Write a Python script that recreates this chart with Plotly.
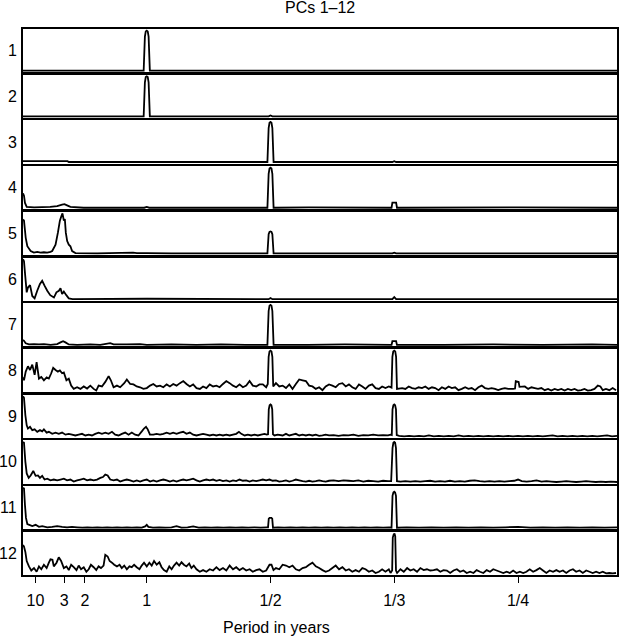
import plotly.graph_objects as go
from plotly.subplots import make_subplots

# ---------------- data (frequency in cycles/year, normalised spectral power) ----------------
PANEL_LABELS = ["1", "2", "3", "4", "5", "6", "7", "8", "9", "10", "11", "12"]
TICK_FREQS = [0.1, 1 / 3, 0.5, 1, 2, 3, 4]
TICK_LABELS = ["10", "3", "2", "1", "1/2", "1/3", "1/4"]
FREQ_MAX = 4.8
TITLE = "PCs 1\u201312"
XLABEL = "Period in years"

pc1 = [(0.0, 0.0), (0.975, 0.0), (0.985, 0.85), (0.992, 0.98), (1.0, 1.0), (1.008, 0.98),
       (1.015, 0.85), (1.025, 0.0), (4.8, 0.0)]

pc2 = [(0.0, 0.0), (0.975, 0.0), (0.985, 0.85), (0.992, 0.98), (1.0, 1.0), (1.008, 0.98),
       (1.015, 0.85), (1.025, 0.0), (1.985, 0.0), (2.0, 0.02), (2.015, 0.0), (4.8, 0.0)]

pc3 = [(0.0, 0.02), (0.36, 0.02), (0.37, 0.0), (1.975, 0.0), (1.985, 0.85), (1.992, 0.98),
       (2.0, 1.0), (2.008, 0.98), (2.015, 0.85), (2.025, 0.0), (2.985, 0.0), (3.0, 0.02),
       (3.015, 0.0), (4.8, 0.0)]

pc4 = [(0.0, 0.36), (0.008, 0.3), (0.016, 0.12), (0.03, 0.02), (0.09, 0.01), (0.22, 0.02),
       (0.276, 0.04), (0.316, 0.08), (0.335, 0.09), (0.356, 0.06), (0.383, 0.02), (0.49, 0.0),
       (0.98, 0.0), (1.0, 0.02), (1.02, 0.0), (1.975, 0.0), (1.985, 0.85), (1.992, 0.98),
       (2.0, 1.0), (2.008, 0.98), (2.015, 0.85), (2.025, 0.0), (2.31, 0.01), (2.978, 0.0),
       (2.985, 0.13), (3.015, 0.13), (3.022, 0.0), (4.0, 0.01), (4.8, 0.0)]

pc5 = [(0.0, 0.85), (0.008, 0.82), (0.022, 0.39), (0.035, 0.18), (0.062, 0.06), (0.088, 0.02),
       (0.115, 0.04), (0.142, 0.02), (0.169, 0.03), (0.196, 0.02), (0.222, 0.04), (0.236, 0.06),
       (0.263, 0.22), (0.282, 0.52), (0.298, 0.82), (0.311, 0.94), (0.319, 1.0), (0.330, 0.82),
       (0.338, 0.86), (0.346, 0.52), (0.357, 0.31), (0.370, 0.22), (0.383, 0.18), (0.397, 0.06),
       (0.424, 0.01), (0.6, 0.0), (0.89, 0.02), (0.92, 0.01), (1.0, 0.01), (1.2, 0.0),
       (1.975, 0.0), (1.985, 0.48), (1.992, 0.54), (2.0, 0.55), (2.008, 0.54), (2.015, 0.48),
       (2.025, 0.0), (2.985, 0.0), (3.0, 0.02), (3.015, 0.0), (4.8, 0.0)]

pc6 = [(0.0, 1.0), (0.008, 0.95), (0.018, 0.58), (0.03, 0.17), (0.04, 0.29), (0.057, 0.35),
       (0.075, 0.08), (0.094, 0.02), (0.115, 0.21), (0.137, 0.38), (0.155, 0.46), (0.175, 0.33),
       (0.196, 0.21), (0.22, 0.10), (0.25, 0.04), (0.27, 0.17), (0.29, 0.21), (0.303, 0.27),
       (0.316, 0.13), (0.33, 0.19), (0.35, 0.10), (0.37, 0.02), (0.4, 0.0), (1.0, 0.01),
       (1.985, 0.0), (2.0, 0.03), (2.015, 0.0), (2.985, 0.0), (3.0, 0.05), (3.015, 0.0), (4.8, 0.0)]

pc7 = [(0.0, 0.14), (0.008, 0.12), (0.022, 0.06), (0.048, 0.03), (0.088, 0.04), (0.129, 0.03),
       (0.169, 0.04), (0.223, 0.02), (0.276, 0.04), (0.303, 0.08), (0.324, 0.11), (0.343, 0.08),
       (0.370, 0.03), (0.437, 0.02), (0.544, 0.03), (0.624, 0.02), (0.705, 0.06), (0.732, 0.03),
       (0.839, 0.03), (0.946, 0.04), (1.0, 0.02), (1.2, 0.03), (1.4, 0.02), (1.6, 0.03),
       (1.8, 0.02), (1.975, 0.02), (1.985, 0.85), (1.992, 0.98), (2.0, 1.0), (2.008, 0.98),
       (2.015, 0.85), (2.025, 0.02), (2.3, 0.02), (2.6, 0.03), (2.978, 0.02), (2.985, 0.11),
       (3.015, 0.11), (3.022, 0.02), (3.4, 0.02), (3.8, 0.03), (4.2, 0.02), (4.6, 0.03), (4.8, 0.02)]

pc8 = [(0.0, 0.35), (0.008, 0.28), (0.022, 0.49), (0.040, 0.62), (0.057, 0.53), (0.075, 0.66),
       (0.094, 0.41), (0.110, 0.72), (0.129, 0.32), (0.148, 0.36), (0.169, 0.28), (0.191, 0.35),
       (0.209, 0.32), (0.228, 0.45), (0.244, 0.58), (0.263, 0.53), (0.282, 0.49), (0.298, 0.52),
       (0.316, 0.45), (0.330, 0.47), (0.351, 0.28), (0.370, 0.32), (0.389, 0.15), (0.410, 0.07),
       (0.437, 0.11), (0.464, 0.07), (0.491, 0.13), (0.518, 0.08), (0.544, 0.15), (0.571, 0.07),
       (0.592, 0.03), (0.611, 0.15), (0.638, 0.13), (0.665, 0.24), (0.692, 0.38), (0.710, 0.28),
       (0.732, 0.11), (0.759, 0.15), (0.785, 0.11), (0.818, 0.21), (0.839, 0.30), (0.866, 0.19),
       (0.893, 0.18), (0.919, 0.13), (0.946, 0.11), (0.973, 0.07), (1.000, 0.09), (1.027, 0.15),
       (1.053, 0.19), (1.080, 0.13), (1.107, 0.15), (1.134, 0.11), (1.161, 0.18), (1.187, 0.13),
       (1.214, 0.19), (1.241, 0.15), (1.268, 0.21), (1.295, 0.26), (1.321, 0.19), (1.348, 0.13),
       (1.375, 0.18), (1.402, 0.09), (1.429, 0.07), (1.455, 0.13), (1.482, 0.09), (1.509, 0.18),
       (1.536, 0.13), (1.563, 0.15), (1.589, 0.11), (1.616, 0.19), (1.643, 0.26), (1.670, 0.21),
       (1.697, 0.15), (1.723, 0.11), (1.750, 0.18), (1.777, 0.11), (1.804, 0.15), (1.831, 0.26),
       (1.857, 0.15), (1.884, 0.13), (1.911, 0.18), (1.938, 0.18), (1.965, 0.11), (1.978, 0.19),
       (1.985, 0.85), (1.992, 0.98), (2.0, 1.0), (2.008, 0.98), (2.015, 0.85), (2.022, 0.13),
       (2.044, 0.21), (2.071, 0.13), (2.098, 0.15), (2.125, 0.09), (2.152, 0.18), (2.178, 0.07),
       (2.205, 0.19), (2.232, 0.30), (2.259, 0.28), (2.286, 0.26), (2.312, 0.15), (2.339, 0.13),
       (2.366, 0.07), (2.393, 0.11), (2.420, 0.04), (2.446, 0.13), (2.473, 0.18), (2.500, 0.15),
       (2.527, 0.11), (2.554, 0.19), (2.581, 0.21), (2.608, 0.13), (2.634, 0.18), (2.661, 0.11),
       (2.688, 0.07), (2.715, 0.18), (2.742, 0.13), (2.768, 0.07), (2.795, 0.15), (2.822, 0.18),
       (2.849, 0.09), (2.876, 0.07), (2.902, 0.13), (2.929, 0.09), (2.956, 0.13), (2.978, 0.10),
       (2.985, 0.85), (2.992, 0.98), (3.0, 1.0), (3.008, 0.98), (3.015, 0.85), (3.022, 0.07),
       (3.064, 0.09), (3.090, 0.07), (3.117, 0.13), (3.144, 0.09), (3.171, 0.07), (3.197, 0.11),
       (3.224, 0.09), (3.251, 0.13), (3.278, 0.07), (3.305, 0.11), (3.331, 0.09), (3.358, 0.04),
       (3.385, 0.11), (3.412, 0.07), (3.439, 0.13), (3.465, 0.09), (3.492, 0.11), (3.519, 0.04),
       (3.546, 0.07), (3.573, 0.11), (3.599, 0.07), (3.626, 0.09), (3.653, 0.04), (3.680, 0.11),
       (3.707, 0.15), (3.733, 0.09), (3.760, 0.07), (3.787, 0.09), (3.814, 0.07), (3.840, 0.04),
       (3.867, 0.07), (3.894, 0.09), (3.921, 0.07), (3.961, 0.07), (3.976, 0.08), (3.982, 0.26),
       (4.005, 0.24), (4.012, 0.12), (4.055, 0.13), (4.082, 0.07), (4.109, 0.11), (4.135, 0.09),
       (4.162, 0.07), (4.189, 0.09), (4.216, 0.04), (4.243, 0.07), (4.269, 0.03), (4.296, 0.07),
       (4.323, 0.04), (4.350, 0.07), (4.377, 0.03), (4.403, 0.07), (4.430, 0.04), (4.457, 0.07),
       (4.484, 0.03), (4.511, 0.04), (4.537, 0.07), (4.564, 0.03), (4.591, 0.04), (4.618, 0.07),
       (4.645, 0.15), (4.666, 0.13), (4.685, 0.04), (4.711, 0.07), (4.738, 0.04), (4.765, 0.09),
       (4.792, 0.04)]

pc9 = [(0.0, 1.0), (0.008, 0.96), (0.019, 0.54), (0.03, 0.29), (0.040, 0.21), (0.057, 0.25),
       (0.075, 0.17), (0.094, 0.19), (0.115, 0.13), (0.137, 0.17), (0.155, 0.14), (0.169, 0.19),
       (0.191, 0.11), (0.209, 0.13), (0.236, 0.08), (0.263, 0.11), (0.289, 0.08), (0.316, 0.11),
       (0.343, 0.06), (0.370, 0.08), (0.396, 0.06), (0.423, 0.04), (0.450, 0.06), (0.477, 0.08),
       (0.504, 0.04), (0.531, 0.06), (0.557, 0.04), (0.584, 0.08), (0.611, 0.11), (0.638, 0.08),
       (0.665, 0.11), (0.692, 0.08), (0.719, 0.13), (0.745, 0.06), (0.772, 0.04), (0.799, 0.08),
       (0.826, 0.11), (0.853, 0.06), (0.879, 0.11), (0.906, 0.06), (0.933, 0.04), (0.960, 0.14),
       (0.978, 0.21), (0.994, 0.25), (1.008, 0.19), (1.026, 0.06), (1.053, 0.06), (1.080, 0.08),
       (1.107, 0.06), (1.134, 0.08), (1.161, 0.11), (1.187, 0.08), (1.214, 0.11), (1.241, 0.08),
       (1.268, 0.11), (1.295, 0.13), (1.321, 0.08), (1.348, 0.11), (1.375, 0.06), (1.402, 0.04),
       (1.429, 0.06), (1.455, 0.08), (1.482, 0.06), (1.509, 0.04), (1.536, 0.06), (1.563, 0.04),
       (1.589, 0.06), (1.616, 0.04), (1.643, 0.06), (1.670, 0.04), (1.697, 0.06), (1.723, 0.08),
       (1.745, 0.13), (1.764, 0.08), (1.791, 0.04), (1.817, 0.06), (1.844, 0.04), (1.871, 0.06),
       (1.898, 0.04), (1.925, 0.06), (1.951, 0.08), (1.970, 0.06), (1.980, 0.07), (1.986, 0.68),
       (1.993, 0.78), (2.0, 0.8), (2.007, 0.78), (2.014, 0.68), (2.020, 0.07), (2.032, 0.04),
       (2.058, 0.06), (2.098, 0.04), (2.125, 0.08), (2.152, 0.04), (2.178, 0.06), (2.205, 0.08),
       (2.232, 0.04), (2.259, 0.06), (2.286, 0.04), (2.312, 0.06), (2.339, 0.04), (2.366, 0.06),
       (2.393, 0.03), (2.420, 0.04), (2.446, 0.06), (2.473, 0.04), (2.51, 0.05), (2.55, 0.03),
       (2.59, 0.05), (2.63, 0.04), (2.67, 0.06), (2.71, 0.03), (2.75, 0.05), (2.79, 0.04),
       (2.83, 0.06), (2.87, 0.04), (2.91, 0.05), (2.95, 0.04), (2.97, 0.06), (2.980, 0.05),
       (2.986, 0.68), (2.993, 0.78), (3.0, 0.8), (3.007, 0.78), (3.014, 0.68), (3.020, 0.05),
       (3.04, 0.03), (3.08, 0.02), (3.12, 0.03), (3.16, 0.02), (3.20, 0.03), (3.24, 0.02),
       (3.28, 0.04), (3.32, 0.02), (3.36, 0.03), (3.40, 0.02), (3.44, 0.03), (3.48, 0.02),
       (3.52, 0.04), (3.56, 0.02), (3.60, 0.03), (3.64, 0.02), (3.68, 0.03), (3.72, 0.02),
       (3.76, 0.03), (3.80, 0.02), (3.84, 0.03), (3.88, 0.02), (3.92, 0.03), (3.96, 0.02),
       (4.00, 0.03), (4.04, 0.02), (4.08, 0.03), (4.12, 0.02), (4.16, 0.03), (4.20, 0.02),
       (4.24, 0.03), (4.28, 0.04), (4.32, 0.02), (4.36, 0.03), (4.40, 0.02), (4.44, 0.03),
       (4.48, 0.02), (4.52, 0.03), (4.56, 0.02), (4.60, 0.03), (4.64, 0.02), (4.68, 0.03),
       (4.72, 0.04), (4.76, 0.02), (4.80, 0.03)]

pc10 = [(0.0, 1.0), (0.008, 0.98), (0.019, 0.52), (0.03, 0.23), (0.046, 0.12), (0.062, 0.18),
        (0.083, 0.29), (0.102, 0.17), (0.121, 0.18), (0.137, 0.12), (0.155, 0.17), (0.174, 0.08),
        (0.196, 0.10), (0.222, 0.06), (0.249, 0.08), (0.276, 0.06), (0.303, 0.08), (0.330, 0.10),
        (0.356, 0.06), (0.383, 0.08), (0.410, 0.03), (0.437, 0.06), (0.464, 0.08), (0.491, 0.10),
        (0.518, 0.06), (0.544, 0.08), (0.571, 0.06), (0.598, 0.08), (0.625, 0.12), (0.646, 0.14),
        (0.665, 0.20), (0.684, 0.18), (0.705, 0.08), (0.732, 0.06), (0.759, 0.08), (0.785, 0.03),
        (0.812, 0.06), (0.839, 0.08), (0.866, 0.06), (0.893, 0.03), (0.919, 0.06), (0.946, 0.03),
        (0.973, 0.06), (1.000, 0.08), (1.027, 0.03), (1.053, 0.06), (1.080, 0.03), (1.107, 0.06),
        (1.134, 0.08), (1.161, 0.06), (1.187, 0.03), (1.214, 0.06), (1.241, 0.03), (1.268, 0.06),
        (1.295, 0.08), (1.321, 0.06), (1.348, 0.08), (1.375, 0.10), (1.402, 0.06), (1.429, 0.03),
        (1.455, 0.06), (1.482, 0.08), (1.509, 0.06), (1.536, 0.08), (1.563, 0.05), (1.589, 0.07),
        (1.616, 0.04), (1.643, 0.06), (1.670, 0.03), (1.697, 0.06), (1.723, 0.04), (1.750, 0.08),
        (1.777, 0.05), (1.804, 0.06), (1.831, 0.03), (1.857, 0.06), (1.884, 0.04), (1.911, 0.06),
        (1.938, 0.08), (1.965, 0.06), (1.992, 0.08), (2.018, 0.05), (2.044, 0.06), (2.071, 0.03),
        (2.098, 0.04), (2.125, 0.06), (2.152, 0.03), (2.178, 0.05), (2.205, 0.08), (2.232, 0.06),
        (2.259, 0.04), (2.286, 0.03), (2.312, 0.05), (2.339, 0.03), (2.366, 0.04), (2.393, 0.06),
        (2.420, 0.04), (2.446, 0.03), (2.473, 0.05), (2.51, 0.06), (2.55, 0.04), (2.59, 0.06),
        (2.63, 0.05), (2.67, 0.04), (2.71, 0.06), (2.75, 0.03), (2.79, 0.05), (2.83, 0.04),
        (2.87, 0.03), (2.91, 0.05), (2.95, 0.04), (2.975, 0.04), (2.986, 0.85), (2.993, 0.98),
        (3.0, 1.0), (3.007, 0.98), (3.014, 0.85), (3.022, 0.04), (3.05, 0.03), (3.09, 0.04),
        (3.13, 0.03), (3.17, 0.04), (3.21, 0.03), (3.25, 0.04), (3.29, 0.05), (3.33, 0.03),
        (3.37, 0.04), (3.41, 0.03), (3.45, 0.05), (3.49, 0.03), (3.53, 0.04), (3.57, 0.03),
        (3.61, 0.05), (3.65, 0.06), (3.69, 0.04), (3.73, 0.03), (3.77, 0.04), (3.81, 0.03),
        (3.85, 0.04), (3.89, 0.03), (3.93, 0.04), (3.97, 0.05), (4.00, 0.08), (4.03, 0.04),
        (4.07, 0.03), (4.11, 0.04), (4.15, 0.06), (4.19, 0.03), (4.23, 0.04), (4.27, 0.03),
        (4.31, 0.02), (4.35, 0.03), (4.39, 0.04), (4.43, 0.03), (4.47, 0.02), (4.51, 0.03),
        (4.55, 0.04), (4.59, 0.03), (4.63, 0.02), (4.67, 0.03), (4.71, 0.02), (4.75, 0.03),
        (4.80, 0.02)]

pc11 = [(0.0, 1.0), (0.008, 0.98), (0.016, 0.57), (0.024, 0.26), (0.035, 0.11), (0.051, 0.09),
        (0.075, 0.06), (0.102, 0.09), (0.129, 0.04), (0.155, 0.06), (0.196, 0.03), (0.236, 0.04),
        (0.276, 0.06), (0.316, 0.04), (0.356, 0.03), (0.396, 0.04), (0.437, 0.03), (0.48, 0.02),
        (0.52, 0.03), (0.56, 0.02), (0.60, 0.03), (0.64, 0.02), (0.68, 0.03), (0.72, 0.02),
        (0.76, 0.03), (0.80, 0.02), (0.84, 0.03), (0.88, 0.02), (0.92, 0.03), (0.96, 0.02),
        (0.987, 0.05), (1.0, 0.09), (1.013, 0.04), (1.05, 0.02), (1.10, 0.03), (1.15, 0.02),
        (1.20, 0.03), (1.241, 0.06), (1.28, 0.02), (1.33, 0.03), (1.375, 0.05), (1.42, 0.02),
        (1.47, 0.03), (1.52, 0.02), (1.57, 0.03), (1.62, 0.02), (1.67, 0.03), (1.72, 0.02),
        (1.77, 0.03), (1.82, 0.02), (1.87, 0.03), (1.92, 0.02), (1.97, 0.03), (1.980, 0.03),
        (1.986, 0.24), (1.993, 0.26), (2.007, 0.26), (2.014, 0.24), (2.020, 0.02), (2.06, 0.03),
        (2.11, 0.02), (2.16, 0.03), (2.21, 0.02), (2.26, 0.03), (2.31, 0.02), (2.36, 0.03),
        (2.41, 0.02), (2.46, 0.03), (2.51, 0.02), (2.56, 0.03), (2.61, 0.02), (2.66, 0.03),
        (2.71, 0.02), (2.76, 0.03), (2.81, 0.02), (2.86, 0.03), (2.91, 0.02), (2.96, 0.03),
        (2.978, 0.02), (2.986, 0.80), (2.993, 0.88), (3.0, 0.90), (3.007, 0.88), (3.014, 0.80),
        (3.022, 0.02), (3.1, 0.03), (3.2, 0.02), (3.3, 0.03), (3.4, 0.02), (3.5, 0.03), (3.6, 0.02),
        (3.7, 0.03), (3.8, 0.02), (3.9, 0.03), (4.0, 0.04), (4.1, 0.02), (4.2, 0.03), (4.3, 0.02),
        (4.4, 0.03), (4.5, 0.02), (4.6, 0.03), (4.7, 0.02), (4.8, 0.03)]

pc12 = [(0.0, 0.72), (0.008, 0.68), (0.019, 0.55), (0.03, 0.33), (0.048, 0.2), (0.067, 0.10),
        (0.089, 0.16), (0.110, 0.07), (0.129, 0.2), (0.148, 0.13), (0.169, 0.24), (0.191, 0.16),
        (0.209, 0.29), (0.222, 0.37), (0.238, 0.36), (0.249, 0.2), (0.271, 0.29), (0.289, 0.42),
        (0.308, 0.33), (0.330, 0.16), (0.351, 0.2), (0.370, 0.11), (0.389, 0.24), (0.410, 0.18),
        (0.432, 0.11), (0.450, 0.22), (0.469, 0.13), (0.491, 0.18), (0.512, 0.07), (0.531, 0.13),
        (0.549, 0.24), (0.571, 0.18), (0.592, 0.11), (0.611, 0.2), (0.630, 0.16), (0.651, 0.22),
        (0.665, 0.48), (0.684, 0.44), (0.700, 0.33), (0.719, 0.29), (0.737, 0.24), (0.759, 0.2),
        (0.780, 0.24), (0.798, 0.16), (0.818, 0.22), (0.839, 0.13), (0.860, 0.2), (0.879, 0.18),
        (0.898, 0.24), (0.919, 0.18), (0.941, 0.13), (0.959, 0.22), (0.978, 0.29), (1.000, 0.2),
        (1.021, 0.29), (1.040, 0.22), (1.059, 0.33), (1.080, 0.24), (1.102, 0.30), (1.120, 0.18),
        (1.139, 0.11), (1.161, 0.07), (1.182, 0.2), (1.201, 0.13), (1.220, 0.22), (1.241, 0.29),
        (1.262, 0.22), (1.281, 0.3), (1.300, 0.24), (1.321, 0.2), (1.343, 0.27), (1.361, 0.16),
        (1.380, 0.22), (1.402, 0.13), (1.429, 0.07), (1.455, 0.11), (1.482, 0.07), (1.509, 0.13),
        (1.536, 0.10), (1.563, 0.18), (1.589, 0.11), (1.616, 0.16), (1.643, 0.10), (1.670, 0.22),
        (1.697, 0.13), (1.723, 0.18), (1.750, 0.11), (1.777, 0.16), (1.804, 0.10), (1.831, 0.13),
        (1.857, 0.07), (1.884, 0.11), (1.911, 0.13), (1.938, 0.07), (1.965, 0.10), (1.992, 0.24),
        (2.008, 0.24), (2.024, 0.11), (2.044, 0.16), (2.071, 0.13), (2.098, 0.24), (2.125, 0.22),
        (2.152, 0.18), (2.178, 0.22), (2.205, 0.13), (2.232, 0.10), (2.259, 0.16), (2.286, 0.18),
        (2.312, 0.24), (2.339, 0.29), (2.366, 0.2), (2.393, 0.16), (2.420, 0.11), (2.446, 0.07),
        (2.473, 0.10), (2.500, 0.16), (2.527, 0.22), (2.554, 0.13), (2.581, 0.18), (2.608, 0.10),
        (2.634, 0.13), (2.661, 0.07), (2.688, 0.11), (2.715, 0.07), (2.742, 0.16), (2.768, 0.13),
        (2.795, 0.07), (2.822, 0.10), (2.849, 0.04), (2.876, 0.07), (2.902, 0.13), (2.929, 0.07),
        (2.956, 0.13), (2.970, 0.04), (2.983, 0.10), (2.988, 0.90), (2.995, 0.97), (3.002, 1.0),
        (3.008, 0.93), (3.014, 0.10), (3.023, 0.04), (3.050, 0.13), (3.077, 0.07), (3.104, 0.16),
        (3.130, 0.10), (3.157, 0.13), (3.184, 0.07), (3.211, 0.16), (3.238, 0.11), (3.264, 0.13),
        (3.291, 0.10), (3.318, 0.11), (3.345, 0.13), (3.372, 0.07), (3.398, 0.11), (3.425, 0.10),
        (3.452, 0.04), (3.479, 0.10), (3.506, 0.13), (3.532, 0.07), (3.559, 0.10), (3.586, 0.04),
        (3.613, 0.07), (3.640, 0.04), (3.666, 0.11), (3.693, 0.07), (3.720, 0.04), (3.747, 0.11),
        (3.774, 0.07), (3.800, 0.13), (3.827, 0.10), (3.854, 0.07), (3.881, 0.04), (3.908, 0.07),
        (3.934, 0.04), (3.961, 0.10), (3.988, 0.04), (4.015, 0.07), (4.042, 0.04), (4.068, 0.07),
        (4.095, 0.13), (4.122, 0.07), (4.149, 0.11), (4.176, 0.16), (4.202, 0.10), (4.229, 0.04),
        (4.256, 0.10), (4.283, 0.07), (4.310, 0.11), (4.336, 0.07), (4.363, 0.10), (4.390, 0.04),
        (4.417, 0.10), (4.444, 0.13), (4.470, 0.07), (4.497, 0.10), (4.524, 0.04), (4.551, 0.10),
        (4.578, 0.07), (4.604, 0.04), (4.631, 0.07), (4.658, 0.04), (4.685, 0.07), (4.712, 0.03),
        (4.738, 0.04), (4.765, 0.03), (4.792, 0.04)]

SPECTRA = [pc1, pc2, pc3, pc4, pc5, pc6, pc7, pc8, pc9, pc10, pc11, pc12]

# ---------------- figure ----------------
FONT = "Liberation Sans, Arial, Helvetica, sans-serif"
FS = 16
N = len(SPECTRA)
fig = make_subplots(rows=N, cols=1, shared_xaxes=True, vertical_spacing=0.0046)

for i, spec in enumerate(SPECTRA):
    r = i + 1
    freqs = [p[0] for p in spec]
    power = [p[1] for p in spec]
    fig.add_trace(go.Scatter(x=freqs, y=power, mode="lines",
                             line=dict(color="black", width=1.8, simplify=False),
                             hoverinfo="skip", showlegend=False), row=r, col=1)
    lo, hi = min(power), max(power)
    pad = 0.04 * (hi - lo)
    fig.update_yaxes(range=[lo - pad, hi + pad], showticklabels=False, ticks="",
                     showgrid=False, zeroline=False, showline=True, linecolor="black",
                     linewidth=1.5, mirror=True, row=r, col=1)
    last = (r == N)
    fig.update_xaxes(range=[0, FREQ_MAX], showgrid=False, zeroline=False, showline=True,
                     linecolor="black", linewidth=1.5, mirror=True,
                     tickmode="array", tickvals=TICK_FREQS, ticktext=TICK_LABELS,
                     ticks="outside" if last else "", ticklen=6, tickwidth=1.2, tickcolor="black",
                     showticklabels=last, ticklabelstandoff=4,
                     tickfont=dict(family=FONT, size=FS, color="black"),
                     row=r, col=1)
    yref = "y domain" if r == 1 else f"y{r} domain"
    fig.add_annotation(text=PANEL_LABELS[i], xref="paper", x=-0.009, xanchor="right",
                       yref=yref, y=0.5, yanchor="middle", showarrow=False, borderpad=0,
                       font=dict(family=FONT, size=FS, color="black"))

fig.add_annotation(text=TITLE, xref="paper", x=0.5, xanchor="center",
                   yref="paper", y=1.0385, yanchor="middle", showarrow=False,
                   font=dict(family=FONT, size=FS, color="black"))
fig.add_annotation(text=XLABEL, xref="paper", x=0.426, xanchor="center",
                   yref="paper", y=-0.097, yanchor="middle", showarrow=False,
                   font=dict(family=FONT, size=FS, color="black"))

fig.update_layout(width=620, height=637, margin=dict(l=23, r=1, t=29, b=62),
                  paper_bgcolor="white", plot_bgcolor="white",
                  font=dict(family=FONT, size=FS, color="black"))

fig.write_html("out.html", config={"displayModeBar": False},
               post_script="document.body.style.margin='0';document.body.style.overflow='hidden';")
